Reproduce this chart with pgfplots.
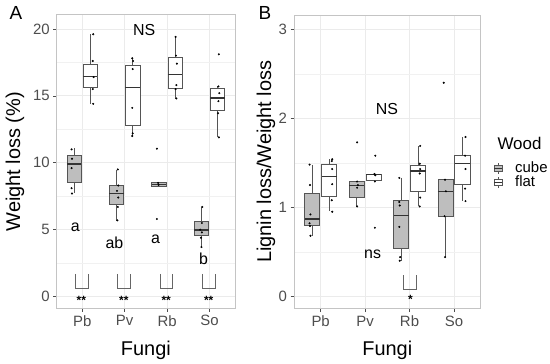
\documentclass[border=0pt]{standalone}
\usepackage{pgfplots}
\pgfplotsset{compat=1.18}
\usepgfplotslibrary{statistics}
\usepackage{fontspec}
\setmainfont{Liberation Sans}
\definecolor{cubefill}{HTML}{BEBEBE}
\definecolor{boxline}{HTML}{555555}
\definecolor{gridc}{HTML}{EBEBEB}
\definecolor{framec}{HTML}{C4C4C4}
\definecolor{tickc}{HTML}{4D4D4D}
\newcommand{\fs}[1]{\fontsize{#1}{#1}\selectfont}

\pgfplotsset{
 panel/.style={
  scale only axis, height=293.5bp,
  xmin=0.4, xmax=4.6, xtick={1,2,3,4}, xticklabels={Pb,Pv,Rb,So},
  tick pos=left, tick align=outside,
  major tick length=3.5bp, minor tick length=0pt,
  grid=both,
  major grid style={draw=gridc, line width=0.7bp},
  minor grid style={draw=gridc!70, line width=0.4bp},
  axis line style={draw=framec, line width=0.7bp},
  tick style={draw=tickc, line width=0.6bp},
  ticklabel style={font=\fs{15}, text=tickc},
  /pgf/number format/assume math mode=true,
  clip=false,
  boxplot/draw direction=y,
  boxplot/whisker extend=0,
  boxplot/every median/.style={line width=1.4bp, draw=black!80},
 },
 cube/.style={draw=boxline, fill=cubefill, line width=0.7bp, mark=none, solid},
 flat/.style={draw=boxline, fill=white, line width=0.7bp, mark=none, solid},
 pts/.style={only marks, mark=*, mark size=0.8bp, mark options={fill=black, draw=black}},
 brk/.style={draw=black!60, line width=0.7bp, mark=none},
}

\begin{document}
\begin{tikzpicture}[x=1bp,y=1bp]
\useasboundingbox (0,0) rectangle (550,363);

% ---------------- Panel A ----------------
\begin{axis}[panel, at={(56.7bp,54.7bp)}, anchor=south west, width=178.3bp,
  ymin=-0.87, ymax=21.05, ytick={0,5,10,15,20}, minor ytick={2.5,7.5,12.5,17.5}]
\addplot[cube, boxplot prepared={draw position=0.81, box extend=0.34, lower whisker=7.73, lower quartile=8.55, median=9.92, upper quartile=10.54, upper whisker=11.09}] coordinates {};
\addplot[flat, boxplot prepared={draw position=1.19, box extend=0.34, lower whisker=14.4, lower quartile=15.65, median=16.42, upper quartile=17.37, upper whisker=19.6}] coordinates {};
\addplot[cube, boxplot prepared={draw position=1.81, box extend=0.34, lower whisker=5.66, lower quartile=6.93, median=7.7, upper quartile=8.3, upper whisker=9.47}] coordinates {};
\addplot[flat, boxplot prepared={draw position=2.19, box extend=0.34, lower whisker=12.0, lower quartile=12.76, median=15.6, upper quartile=17.3, upper whisker=17.8}] coordinates {};
\addplot[cube, boxplot prepared={draw position=2.81, box extend=0.34, lower whisker=8.25, lower quartile=8.25, median=8.37, upper quartile=8.52, upper whisker=8.52}] coordinates {};
\addplot[flat, boxplot prepared={draw position=3.19, box extend=0.34, lower whisker=14.78, lower quartile=15.55, median=16.6, upper quartile=17.87, upper whisker=19.5}] coordinates {};
\addplot[cube, boxplot prepared={draw position=3.81, box extend=0.34, lower whisker=3.74, lower quartile=4.56, median=4.99, upper quartile=5.66, upper whisker=6.73}] coordinates {};
\addplot[flat, boxplot prepared={draw position=4.19, box extend=0.34, lower whisker=11.96, lower quartile=13.95, median=14.85, upper quartile=15.58, upper whisker=15.7}] coordinates {};
% jittered points
\addplot[pts] coordinates {
 (0.75,11.0) (0.76,10.3) (0.75,9.6) (0.75,8.1) (0.76,7.7)
 (1.26,19.6) (1.25,17.6) (1.27,16.4) (1.25,15.5) (1.26,14.4)
 (1.84,9.5) (1.85,8.3) (1.82,7.9) (1.85,7.4) (1.84,6.7) (1.83,5.7)
 (2.18,17.8) (2.20,17.6) (2.19,17.0) (2.18,14.1) (2.19,12.2) (2.18,12.0)
 (2.76,11.05) (2.79,8.5) (2.80,8.35) (2.76,5.8)
 (3.20,19.4) (3.21,18.0) (3.23,17.4) (3.22,15.8) (3.20,15.5) (3.22,14.8)
 (3.83,6.7) (3.82,5.5) (3.78,5.0) (3.82,4.8) (3.80,4.4) (3.81,3.7)
 (4.22,18.1) (4.21,15.7) (4.23,15.2) (4.21,14.6) (4.20,13.7) (4.22,11.9)
};
% brackets
\addplot[brk] coordinates {(0.835,1.7) (0.835,0.6) (1.135,0.6) (1.135,1.7)};
\addplot[brk] coordinates {(1.835,1.7) (1.835,0.6) (2.135,0.6) (2.135,1.7)};
\addplot[brk] coordinates {(2.835,1.7) (2.835,0.6) (3.135,0.6) (3.135,1.7)};
\addplot[brk] coordinates {(3.835,1.7) (3.835,0.6) (4.135,0.6) (4.135,1.7)};
\node[anchor=base, font=\fs{12}\bfseries, inner sep=0pt] at (axis cs:0.98,-0.55) {**};
\node[anchor=base, font=\fs{12}\bfseries, inner sep=0pt] at (axis cs:1.98,-0.55) {**};
\node[anchor=base, font=\fs{12}\bfseries, inner sep=0pt] at (axis cs:2.98,-0.55) {**};
\node[anchor=base, font=\fs{12}\bfseries, inner sep=0pt] at (axis cs:3.98,-0.55) {**};
\node[anchor=base, font=\fs{16}, inner sep=0pt] at (axis cs:2.46,19.48) {NS};
\node[anchor=base, font=\fs{16}, inner sep=0pt] at (axis cs:0.84,4.86) {a};
\node[anchor=base, font=\fs{16}, inner sep=0pt] at (axis cs:1.76,3.62) {ab};
\node[anchor=base, font=\fs{16}, inner sep=0pt] at (axis cs:2.73,3.94) {a};
\node[anchor=base, font=\fs{16}, inner sep=0pt] at (axis cs:3.86,2.37) {b};
\end{axis}

% ---------------- Panel B ----------------
\begin{axis}[panel, at={(294bp,54.3bp)}, anchor=south west, width=186.6bp,
  ymin=-0.14, ymax=3.16, ytick={0,1,2,3}, minor ytick={0.5,1.5,2.5}]
\addplot[cube, boxplot prepared={draw position=0.81, box extend=0.34, lower whisker=0.68, lower quartile=0.80, median=0.87, upper quartile=1.16, upper whisker=1.48}] coordinates {};
\addplot[flat, boxplot prepared={draw position=1.19, box extend=0.34, lower whisker=0.957, lower quartile=1.12, median=1.345, upper quartile=1.48, upper whisker=1.54}] coordinates {};
\addplot[cube, boxplot prepared={draw position=1.81, box extend=0.34, lower whisker=1.01, lower quartile=1.11, median=1.245, upper quartile=1.29, upper whisker=1.29}] coordinates {};
\addplot[flat, boxplot prepared={draw position=2.19, box extend=0.34, lower whisker=1.305, lower quartile=1.305, median=1.37, upper quartile=1.375, upper whisker=1.375}] coordinates {};
\addplot[cube, boxplot prepared={draw position=2.81, box extend=0.34, lower whisker=0.40, lower quartile=0.535, median=0.91, upper quartile=1.076, upper whisker=1.335}] coordinates {};
\addplot[flat, boxplot prepared={draw position=3.19, box extend=0.34, lower whisker=1.01, lower quartile=1.18, median=1.41, upper quartile=1.476, upper whisker=1.69}] coordinates {};
\addplot[cube, boxplot prepared={draw position=3.81, box extend=0.34, lower whisker=0.437, lower quartile=0.90, median=1.18, upper quartile=1.316, upper whisker=1.316}] coordinates {};
\addplot[flat, boxplot prepared={draw position=4.19, box extend=0.34, lower whisker=1.07, lower quartile=1.26, median=1.49, upper quartile=1.58, upper whisker=1.79}] coordinates {};
\addplot[pts] coordinates {
 (0.75,1.48) (0.76,1.25) (0.77,0.92) (0.75,0.82) (0.76,0.79) (0.77,0.68)
 (1.26,1.54) (1.25,1.52) (1.26,1.43) (1.26,1.26) (1.25,1.08) (1.26,0.95)
 (1.82,1.73) (1.82,1.29) (1.84,1.25) (1.82,1.22) (1.82,1.01)
 (2.23,1.58) (2.21,1.375) (2.23,1.36) (2.22,1.29) (2.22,0.77)
 (2.77,1.33) (2.77,1.06) (2.78,1.02) (2.77,0.78) (2.79,0.44) (2.78,0.40)
 (3.24,1.69) (3.23,1.49) (3.24,1.43) (3.23,1.38) (3.24,1.11) (3.23,1.01)
 (3.77,2.40) (3.80,1.31) (3.82,1.18) (3.79,0.90) (3.80,0.44)
 (4.26,1.79) (4.25,1.58) (4.26,1.43) (4.25,1.21) (4.26,1.07)
};
\addplot[brk] coordinates {(2.865,0.235) (2.865,0.075) (3.15,0.075) (3.15,0.235)};
\node[anchor=base, font=\fs{12}\bfseries, inner sep=0pt] at (axis cs:3.02,-0.08) {*};
\node[anchor=base, font=\fs{16}, inner sep=0pt] at (axis cs:2.49,2.04) {NS};
\node[anchor=base, font=\fs{16}, inner sep=0pt] at (axis cs:2.17,0.43) {ns};
\end{axis}

% ---------------- labels ----------------
\node[font=\fs{19}] at (16,350) {A};
\node[font=\fs{19}] at (265,350) {B};
\node[font=\fs{20}, rotate=90, anchor=base, inner sep=0pt] at (20,201.3) {Weight loss (\%)};
\node[font=\fs{20}, rotate=90, anchor=base, inner sep=0pt] at (271,201.3) {Lignin loss/Weight loss};
\node[font=\fs{20}, anchor=base, inner sep=0pt] at (145.9,8) {Fungi};
\node[font=\fs{20}, anchor=base, inner sep=0pt] at (387.3,8) {Fungi};

% legend
\node[font=\fs{17}, anchor=base west, inner sep=0pt] at (497.3,213.7) {Wood};
\draw[boxline, line width=0.6bp] (498,195-5.5) -- (498,195+5.5);
\filldraw[draw=boxline, fill=cubefill, line width=0.6bp] (494,195-3) rectangle (502,195+3);
\draw[black!80, line width=1bp] (494,195) -- (502,195);
\draw[boxline, line width=0.6bp] (498,180.5-5.5) -- (498,180.5+5.5);
\filldraw[draw=boxline, fill=white, line width=0.6bp] (494,180.5-3) rectangle (502,180.5+3);
\draw[black!80, line width=1bp] (494,180.5) -- (502,180.5);
\node[font=\fs{15}, anchor=base west, inner sep=0pt] at (515,191) {cube};
\node[font=\fs{15}, anchor=base west, inner sep=0pt] at (515,176.5) {flat};
\end{tikzpicture}
\end{document}
